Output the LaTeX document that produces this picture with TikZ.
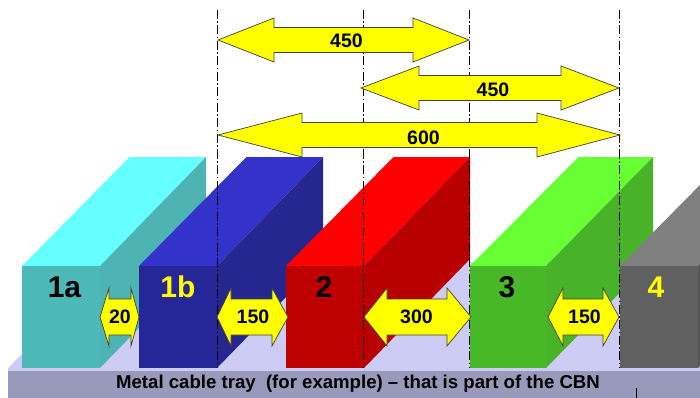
\documentclass[tikz,border=0pt]{standalone}
\usepackage{fontspec}
\setmainfont{Liberation Sans}
\definecolor{floorc}{HTML}{CCCCF5}
\definecolor{trayc}{HTML}{9999BB}
\definecolor{yel}{HTML}{FFFF00}
\definecolor{atop}{HTML}{66FFFF}\definecolor{afront}{HTML}{4DB8B8}\definecolor{aside}{HTML}{4DB3B3}
\definecolor{btop}{HTML}{3333CC}\definecolor{bfront}{HTML}{262699}\definecolor{bside}{HTML}{26268F}
\definecolor{ctop}{HTML}{FF0000}\definecolor{cfront}{HTML}{BF0000}\definecolor{cside}{HTML}{B80000}
\definecolor{dtop}{HTML}{66FF33}\definecolor{dfront}{HTML}{48B828}\definecolor{dside}{HTML}{48B328}
\definecolor{etop}{HTML}{808080}\definecolor{efront}{HTML}{606060}\definecolor{eside}{HTML}{555555}
\tikzset{
  dimline/.style={draw=black,line width=0.6pt,dash pattern=on 9pt off 2.5pt on 1.5pt off 2.5pt},
  dimarrow/.style={fill=yel,draw=black!75,line width=0.7pt,line join=miter},
  dimtext/.style={font=\bfseries\fontsize{19.5}{19.5}\selectfont,text=black,inner sep=0pt},
  boxtext/.style={font=\bfseries\fontsize{30}{30}\selectfont,inner sep=0pt},
  traytext/.style={font=\bfseries\fontsize{18.6}{19}\selectfont,text=black,inner sep=0pt}
}
% front left, front right, top colour, front colour, side colour, depth
\newcommand{\traybox}[6]{%
  \pgfmathsetmacro{\bl}{#1}\pgfmathsetmacro{\br}{#2}%
  \pgfmathsetmacro{\bd}{#6}%
  \fill[#3] (\bl,266) -- (\br,266) -- ({\br+\bd},157) -- ({\bl+\bd+1.5},157) -- cycle;
  \fill[#5] (\br,266) -- ({\br+\bd},157) -- ({\br+\bd},259) -- (\br,368) -- cycle;
  \fill[#4] (\bl,266) rectangle (\br,368);
}
% tipL, baseL, baseR, tipR, cy, head half, shaft half, text, text position
\newcommand{\twoway}[9]{%
  \draw[dimarrow] (#1,#5) -- (#2,{#5-#6}) -- (#2,{#5-#7}) -- (#3,{#5-#7}) -- (#3,{#5-#6})
     -- (#4,#5) -- (#3,{#5+#6}) -- (#3,{#5+#7}) -- (#2,{#5+#7}) -- (#2,{#5+#6}) -- cycle;
  \node[dimtext] at (#9) {#8};
}
\begin{document}
\begin{tikzpicture}[x=1pt,y=-1pt]
\useasboundingbox (0,0) rectangle (700,398);
\clip (0,0) rectangle (700,398);
\fill[white] (0,0) rectangle (700,398);
% floor and tray
\fill[floorc] (8,368) -- (114,262) -- (700,262) -- (700,371) -- (8,371) -- cycle;
\fill[trayc] (8,371) rectangle (700,398);
\draw[black,line width=0.8pt] (636,388) -- (636,398);
% boxes
\traybox{22}{100}{atop}{afront}{aside}{106}
\traybox{139}{217}{btop}{bfront}{bside}{106}
\traybox{286}{364}{ctop}{cfront}{cside}{106}
\traybox{470}{546}{dtop}{dfront}{dside}{107}
\traybox{620}{698}{etop}{efront}{eside}{106}
% dimension lines
\draw[dimline] (217.5,10) -- (217.5,368);
\draw[dimline] (363.5,10) -- (363.5,368);
\draw[dimline] (469.5,10) -- (469.5,368);
\draw[dimline] (619.5,10) -- (619.5,368);
% upper arrows
\twoway{218}{274}{413}{469}{40}{22}{12.5}{450}{346.5,41}
\twoway{361}{419}{561}{619}{88}{22}{12.5}{450}{493,90}
\twoway{218}{302}{537}{620}{135}{22}{12.5}{600}{423.5,137.5}
% lower arrows
\twoway{100}{109}{131}{139}{317}{29}{18}{20}{120,317}
\twoway{217}{231}{272}{288}{317}{29}{18}{150}{253,317}
\twoway{364}{387}{447}{471}{317}{29}{18}{300}{416.5,317}
\twoway{548}{563}{603}{619}{317}{29}{18}{150}{584.5,317}
% labels
\node[boxtext,text=black] (la) at (64.5,287) {1a};
\node[boxtext,text=yel] (lb) at (178,287) {1b};
\node[boxtext,text=black] (lc) at (324,287) {2};
\node[boxtext,text=black] (ld) at (507,287) {3};
\node[boxtext,text=yel] (le) at (656,287) {4};
\node[traytext] (tray) at (358,384) {Metal cable tray\ \ (for example) – that is part of the CBN};
\end{tikzpicture}
\end{document}
